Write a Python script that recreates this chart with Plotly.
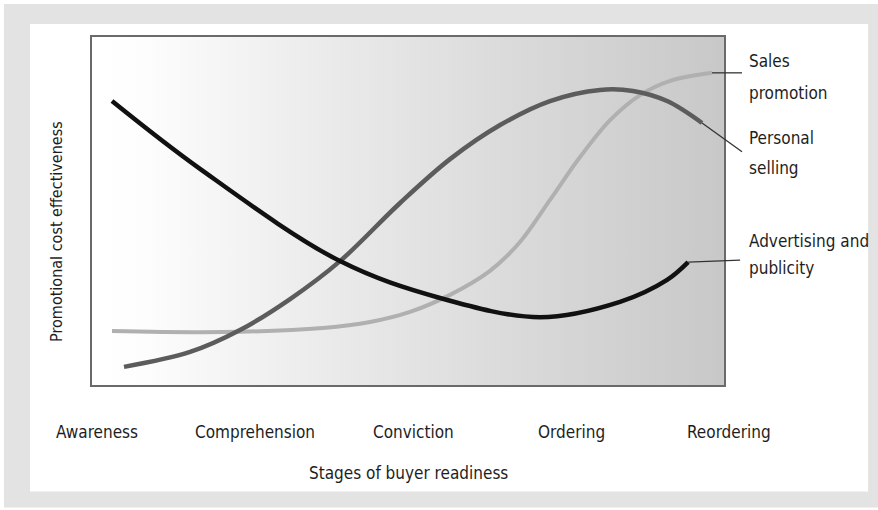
import plotly.graph_objects as go

# Stages of buyer readiness (category positions 0..4 along x)
stages = ["Awareness", "Comprehension", "Conviction", "Ordering", "Reordering"]
stage_pos = [0, 1, 2, 3, 4]

# Advertising and publicity
adv_x = [0.095, 0.652, 1.538, 2.171, 2.804, 3.310, 3.608, 3.741]
adv_y = [8.16, 6.21, 3.56, 2.50, 1.95, 2.39, 3.02, 3.53]

# Personal selling
ps_x = [0.171, 0.589, 0.905, 1.222, 1.538, 1.918, 2.234, 2.551, 2.867, 3.184, 3.392, 3.608, 3.829]
ps_y = [0.52, 0.95, 1.58, 2.47, 3.56, 5.23, 6.49, 7.47, 8.16, 8.48, 8.45, 8.16, 7.53]

# Sales promotion
sp_x = [0.095, 0.797, 1.430, 1.728, 1.981, 2.234, 2.487, 2.677, 2.867, 3.057, 3.247, 3.437, 3.627, 3.892]
sp_y = [1.55, 1.52, 1.64, 1.81, 2.10, 2.59, 3.28, 4.11, 5.32, 6.55, 7.61, 8.33, 8.74, 8.97]

X_RANGE = [-0.0316, 3.968]
Y_RANGE = [0, 10]

FONT = "Liberation Sans Narrow, DejaVu Sans Condensed, Arial Narrow, sans-serif"
TXT = "#1e1e1e"


def px(x):
    """Data x -> paper x."""
    return (x - X_RANGE[0]) / (X_RANGE[1] - X_RANGE[0])


def py(y):
    """Data y -> paper y."""
    return (y - Y_RANGE[0]) / (Y_RANGE[1] - Y_RANGE[0])


fig = go.Figure()

# Shaded background of the plotting area, white at left fading to grey
fig.add_trace(go.Scatter(
    x=[X_RANGE[0], X_RANGE[1], X_RANGE[1], X_RANGE[0], X_RANGE[0]],
    y=[Y_RANGE[0], Y_RANGE[0], Y_RANGE[1], Y_RANGE[1], Y_RANGE[0]],
    fill="toself", mode="lines", line=dict(width=0),
    fillgradient=dict(type="horizontal",
                      colorscale=[[0, "#ffffff"], [0.08, "#fdfdfd"],
                                  [0.35, "#ececec"], [0.65, "#dbdbdb"],
                                  [1, "#c8c8c8"]]),
    hoverinfo="skip", showlegend=False))

fig.add_trace(go.Scatter(x=sp_x, y=sp_y, mode="lines", name="Sales promotion",
                         line=dict(color="#b0b0b0", width=4, shape="spline", smoothing=1.0),
                         showlegend=False))
fig.add_trace(go.Scatter(x=ps_x, y=ps_y, mode="lines", name="Personal selling",
                         line=dict(color="#5c5c5c", width=4.5, shape="spline", smoothing=1.0),
                         showlegend=False))
fig.add_trace(go.Scatter(x=adv_x, y=adv_y, mode="lines", name="Advertising and publicity",
                         line=dict(color="#111111", width=4.5, shape="spline", smoothing=1.0),
                         showlegend=False))

shapes = []
# Outer grey frame with white inner panel
shapes.append(dict(type="rect", xref="paper", yref="paper", layer="below",
                   x0=px(-0.589), x1=px(4.975), y0=py(-3.52), y1=py(10.95),
                   fillcolor="#e3e3e3", line=dict(width=0)))
shapes.append(dict(type="rect", xref="paper", yref="paper", layer="below",
                   x0=px(-0.424), x1=px(4.880), y0=py(-3.06), y1=py(10.37),
                   fillcolor="#ffffff", line=dict(width=0)))

# Leader lines from curve ends to the labels
leaders = [
    (sp_x[-1], sp_y[-1], 4.082, 8.97),
    (ps_x[-1], ps_y[-1], 4.082, 6.70),
    (adv_x[-1], adv_y[-1], 4.070, 3.59),
]
for x0, y0, x1, y1 in leaders:
    shapes.append(dict(type="line", xref="paper", yref="paper",
                       x0=px(x0), y0=py(y0), x1=px(x1), y1=py(y1),
                       line=dict(color="#333333", width=1.3)))

annotations = []
# Curve labels
label_lines = [("Sales", 9.30), ("promotion", 8.38),
               ("Personal", 7.10), ("selling", 6.24),
               ("Advertising and", 4.14), ("publicity", 3.36)]
for text, yy in label_lines:
    annotations.append(dict(text=text, x=px(4.114), y=py(yy), xref="paper", yref="paper",
                            xanchor="left", yanchor="middle", showarrow=False,
                            font=dict(family=FONT, size=17, color=TXT)))

# Stage labels
for name, pos in zip(stages, stage_pos):
    annotations.append(dict(text=name, x=px(pos), y=py(-1.35), xref="paper", yref="paper",
                            xanchor="center", yanchor="middle", showarrow=False,
                            font=dict(family=FONT, size=17, color=TXT)))

# Axis titles
annotations.append(dict(text="Stages of buyer readiness", x=px(1.97), y=py(-2.53),
                        xref="paper", yref="paper", xanchor="center", yanchor="middle",
                        showarrow=False, font=dict(family=FONT, size=17, color=TXT)))
annotations.append(dict(text="Promotional cost effectiveness", x=px(-0.253), y=py(4.40),
                        xref="paper", yref="paper", xanchor="center", yanchor="middle",
                        textangle=-90, showarrow=False,
                        font=dict(family=FONT, size=16, color=TXT)))

fig.update_layout(
    width=878, height=510,
    margin=dict(l=92, r=154, t=37, b=125),
    paper_bgcolor="#ffffff", plot_bgcolor="#ffffff",
    shapes=shapes, annotations=annotations,
    xaxis=dict(range=X_RANGE, showgrid=False, zeroline=False, showticklabels=False,
               ticks="", showline=True, mirror=True, linecolor="#6a6a6a", linewidth=2),
    yaxis=dict(range=Y_RANGE, showgrid=False, zeroline=False, showticklabels=False,
               ticks="", showline=True, mirror=True, linecolor="#6a6a6a", linewidth=2),
)

fig.write_html("out.html")
